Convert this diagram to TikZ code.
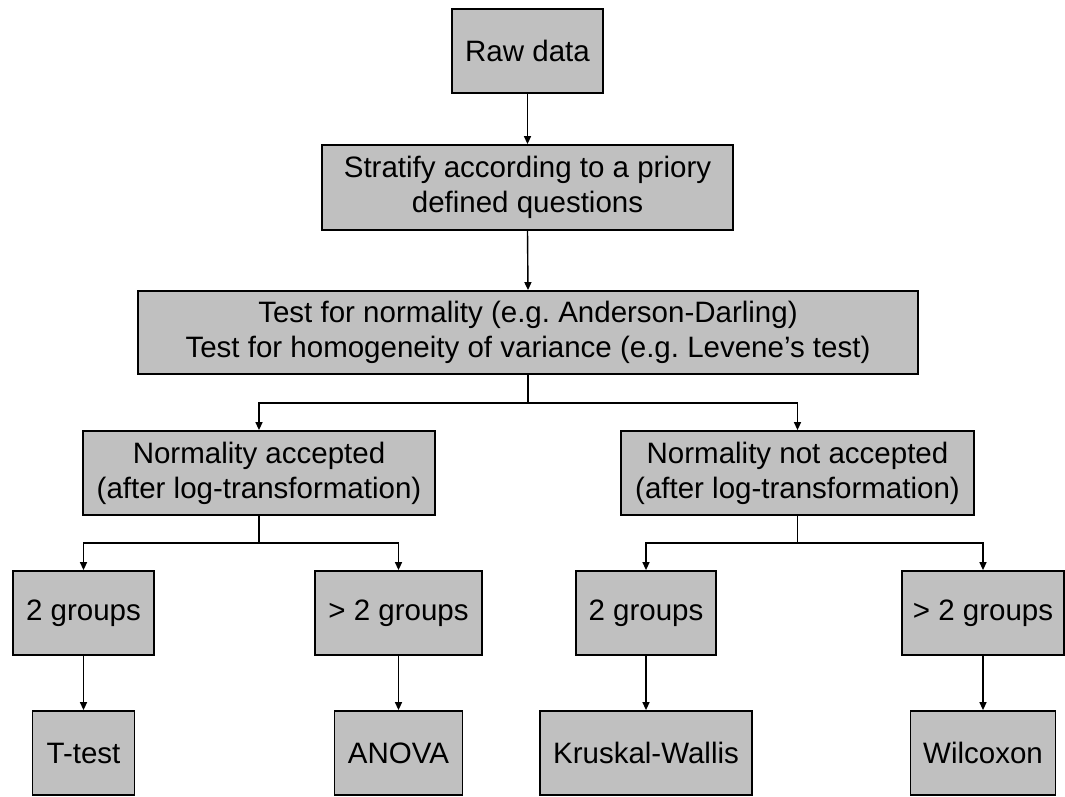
\documentclass[tikz,border=0pt]{standalone}
\usepackage{fontspec}
\setmainfont{Liberation Sans}
\usetikzlibrary{arrows.meta}
\definecolor{boxgray}{HTML}{C0C0C0}
\frenchspacing
\begin{document}
\begin{tikzpicture}[x=1pt,y=-1pt,
  box/.style={draw=black, line width=1.8pt, fill=boxgray, align=center,
              inner sep=0pt, font=\fontsize{29.5}{35}\selectfont},
  conn/.style={line width=1.4pt},
  arr/.style={conn,-{Triangle[length=8pt,width=7pt]}}]
\fill[white] (0,0) rectangle (1065,796);
\useasboundingbox (0,0) rectangle (1065,796);

\node[box, minimum width=151pt, minimum height=84pt] (raw) at (527.5,51) {Raw data};
\node[box, minimum width=411pt, minimum height=85pt] (strat) at (527.5,187.5)
  {Stratify according to a priory\\defined questions};
\node[box, minimum width=780pt, minimum height=83pt] (test) at (528,332.5)
  {Test for normality (e.g. Anderson-Darling)\\Test for homogeneity of variance (e.g. Levene’s test)};
\node[box, minimum width=352pt, minimum height=84pt] (na) at (259,473)
  {Normality accepted\\(after log-transformation)};
\node[box, minimum width=353pt, minimum height=84pt] (nna) at (797.5,473)
  {Normality not accepted\\(after log-transformation)};

\node[box, minimum width=141pt, minimum height=84pt] (g2a) at (83.5,613) {2 groups};
\node[box, minimum width=167pt, minimum height=84pt] (g3a) at (398.5,613) {> 2 groups};
\node[box, minimum width=140pt, minimum height=84pt] (g2b) at (646,613) {2 groups};
\node[box, minimum width=162pt, minimum height=84pt] (g3b) at (983,613) {> 2 groups};

\node[box, minimum width=102pt, minimum height=84pt] (tt) at (83.5,753) {T-test};
\node[box, minimum width=128pt, minimum height=84pt] (anova) at (398.5,753) {ANOVA};
\node[box, minimum width=212pt, minimum height=84pt] (kw) at (646,753) {Kruskal-Wallis};
\node[box, minimum width=145pt, minimum height=84pt] (wil) at (983,753) {Wilcoxon};

\coordinate (b1) at (528,403);
\coordinate (b2) at (259,543);
\coordinate (b3) at (797.5,543);

\draw[arr] (raw.south) -- (strat.north);
\draw[arr] (strat.south) -- (test.north);
\draw[conn] (test.south) -- (b1);
\draw[arr] (b1) -| (na.north);
\draw[arr] (b1) -| (nna.north);
\draw[conn] (na.south) -- (b2);
\draw[arr] (b2) -| (g2a.north);
\draw[arr] (b2) -| (g3a.north);
\draw[conn] (nna.south) -- (b3);
\draw[arr] (b3) -| (g2b.north);
\draw[arr] (b3) -| (g3b.north);
\draw[arr] (g2a.south) -- (tt.north);
\draw[arr] (g3a.south) -- (anova.north);
\draw[arr] (g2b.south) -- (kw.north);
\draw[arr] (g3b.south) -- (wil.north);
\end{tikzpicture}
\end{document}
